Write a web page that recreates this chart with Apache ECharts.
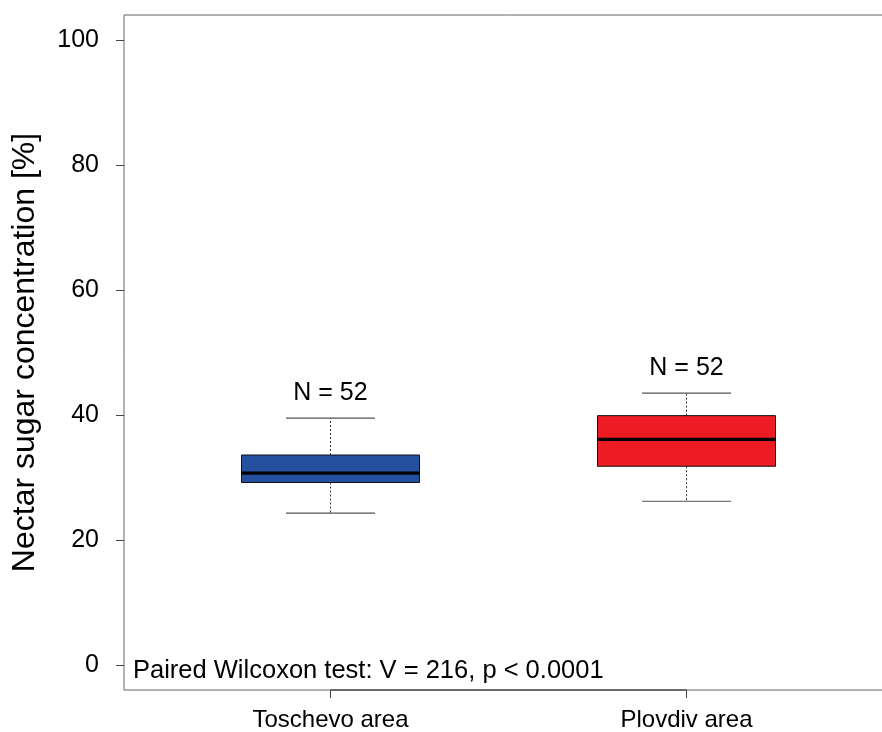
<!DOCTYPE html>
<html>
<head>
<meta charset="utf-8">
<title>Nectar sugar concentration</title>
<script src="https://cdn.jsdelivr.net/npm/echarts@6/dist/echarts.min.js"></script>
<style>
  html, body { margin: 0; padding: 0; background: #fff; overflow: hidden; }
  /* the canvas is a little wider than the window so the plot frame runs off the right edge */
  #chart { width: 900px; height: 732px; }
</style>
</head>
<body>
<div id="chart"></div>
<script>
// Sites and their five-number summaries (nectar sugar, %)
const categories = ['Toschevo area', 'Plovdiv area'];
const xPositions = [1, 2];
const whiskerLow = [24.3, 26.2];
const quartile1 = [29.2, 31.8];
const medians = [30.7, 36.1];
const quartile3 = [33.6, 39.9];
const whiskerHigh = [39.5, 43.5];
const sampleSizes = [52, 52];
const boxColors = ['#2550A0', '#ED1C24'];
const yTicks = [0, 20, 40, 60, 80, 100];
const testNote = 'Paired Wilcoxon test: V = 216, p < 0.0001';

const FONT = '"Liberation Sans", Arial, Helvetica, sans-serif';
const BOX_WIDTH = 0.5;     // in x-axis units
const STAPLE_WIDTH = 0.25; // in x-axis units
const X_MIN = 0.42, X_MAX = 2.58;
const Y_MIN = -4, Y_MAX = 104;

const boxData = xPositions.map((x, i) => [
  x, whiskerLow[i], quartile1[i], medians[i], quartile3[i], whiskerHigh[i], sampleSizes[i]
]);

function renderBox(params, api) {
  const i = params.dataIndex;
  const x = api.value(0);
  const lo = api.coord([x, api.value(1)]);
  const q1 = api.coord([x, api.value(2)]);
  const md = api.coord([x, api.value(3)]);
  const q3 = api.coord([x, api.value(4)]);
  const hi = api.coord([x, api.value(5)]);
  const halfBox = api.size([BOX_WIDTH, 0])[0] / 2;
  const halfStaple = api.size([STAPLE_WIDTH, 0])[0] / 2;
  const cx = lo[0];
  const whiskerStyle = { stroke: '#333', lineWidth: 1, lineDash: [2, 2] };
  const stapleStyle = { stroke: '#555', lineWidth: 1.2 };
  return {
    type: 'group',
    children: [
      { type: 'line', shape: { x1: cx, y1: q3[1], x2: cx, y2: hi[1] }, style: whiskerStyle },
      { type: 'line', shape: { x1: cx, y1: q1[1], x2: cx, y2: lo[1] }, style: whiskerStyle },
      { type: 'line', shape: { x1: cx - halfStaple, y1: hi[1], x2: cx + halfStaple, y2: hi[1] }, style: stapleStyle },
      { type: 'line', shape: { x1: cx - halfStaple, y1: lo[1], x2: cx + halfStaple, y2: lo[1] }, style: stapleStyle },
      {
        type: 'rect',
        shape: { x: cx - halfBox, y: q3[1], width: halfBox * 2, height: q1[1] - q3[1] },
        style: { fill: boxColors[i], stroke: '#111', lineWidth: 1 }
      },
      { type: 'line', shape: { x1: cx - halfBox, y1: md[1], x2: cx + halfBox, y2: md[1] }, style: { stroke: '#000', lineWidth: 3.3 } },
      {
        type: 'text',
        style: {
          text: 'N = ' + api.value(6),
          x: cx, y: hi[1] - 25,
          align: 'center', verticalAlign: 'middle',
          font: '25px ' + FONT, fill: '#000'
        }
      }
    ]
  };
}

const chart = echarts.init(document.getElementById('chart'), null, { renderer: 'canvas' });
chart.setOption({
  animation: false,
  backgroundColor: '#fff',
  grid: {
    left: 124, top: 15, right: 7, bottom: 42,
    show: true, borderColor: '#666', borderWidth: 1, backgroundColor: 'transparent'
  },
  xAxis: {
    type: 'value', min: X_MIN, max: X_MAX,
    axisLine: { show: false, onZero: false },
    splitLine: { show: false },
    axisTick: { show: true, customValues: xPositions, length: 8, lineStyle: { color: '#444', width: 1 } },
    axisLabel: {
      customValues: xPositions,
      margin: 18,
      fontFamily: FONT, fontSize: 24, color: '#000',
      formatter: v => categories[xPositions.indexOf(v)] || ''
    }
  },
  yAxis: {
    type: 'value', min: Y_MIN, max: Y_MAX,
    name: 'Nectar sugar concentration [%]',
    nameLocation: 'middle', nameGap: 83,
    nameTextStyle: { fontFamily: FONT, fontSize: 32, color: '#000' },
    axisLine: { show: false, onZero: false },
    splitLine: { show: false },
    axisTick: { show: true, customValues: yTicks, length: 8, lineStyle: { color: '#444', width: 1 } },
    axisLabel: { customValues: yTicks, margin: 25, fontFamily: FONT, fontSize: 25, color: '#000' }
  },
  graphic: [
    {
      type: 'text', left: 133, top: 658,
      style: { text: testNote, font: '25.5px ' + FONT, fill: '#000' }
    }
  ],
  series: [
    {
      // darker axis segment between the first and last category tick
      type: 'line', silent: true, symbol: 'none', clip: false, z: 3,
      data: [[xPositions[0], Y_MIN], [xPositions[xPositions.length - 1], Y_MIN]],
      lineStyle: { color: '#222', width: 1.2 }
    },
    {
      type: 'custom', renderItem: renderBox, data: boxData, z: 4,
      encode: { x: 0, y: [1, 2, 3, 4, 5] }
    }
  ]
});
</script>
</body>
</html>
